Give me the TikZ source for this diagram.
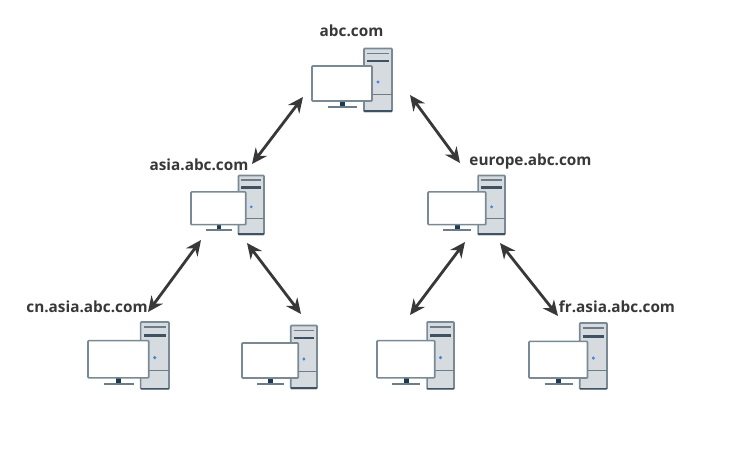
\documentclass[tikz,border=0pt]{standalone}
\usepackage{fontspec}
\setmainfont{Open Sans}
\usetikzlibrary{arrows.meta}
\definecolor{edgegray}{HTML}{7A8A95}
\definecolor{towerfill}{HTML}{D6DBDF}
\definecolor{slotlight}{HTML}{6C7C88}
\definecolor{slotdark}{HTML}{3E5264}
\definecolor{standdark}{HTML}{1F3A50}
\definecolor{dotblue}{HTML}{4A80E0}
\definecolor{inkgray}{HTML}{383838}
\tikzset{
  hostlabel/.style={font=\bfseries\fontsize{11.5}{13}\selectfont,text=inkgray,inner sep=0pt,anchor=base},
  link/.style={draw=inkgray,line width=2.1pt,{Stealth[length=11.5pt,width=10.5pt]}-{Stealth[length=11.5pt,width=10.5pt]}},
  towerbox/.style={draw=edgegray,fill=towerfill,line width=1.2pt,rounded corners=0.6pt},
  screenbox/.style={draw=edgegray,fill=white,line width=1.2pt,rounded corners=0.6pt}
}
% name, left, top, width, height in reference pixels
\newcommand{\hostpc}[5]{%
  \begin{scope}[shift={(#2,#3)},xscale=#4/80,yscale=#5/63]
    \coordinate (#1) at (40,31.5);
    \draw[towerbox] (52,0) rectangle (80,63);
    \draw[slotlight,line width=1.3pt] (55,5) -- (77,5);
    \draw[slotdark,line width=2.2pt] (55,12.5) -- (77,12.5);
    \draw[slotlight,line width=0.7pt] (52,45.5) -- (80,45.5);
    \draw[slotdark,line width=1.4pt] (52,62.5) -- (80,62.5);
    \fill[dotblue] (66,33.5) circle (1.7);
    \fill[standdark] (28,52) rectangle (33,58);
    \draw[slotlight,line width=1.4pt] (16,58.5) -- (45,58.5);
    \draw[screenbox] (0,17.5) rectangle (60,52.5);
  \end{scope}}
\begin{document}
\begin{tikzpicture}[x=0.75pt,y=-0.75pt]
\useasboundingbox (0,0) rectangle (748,454);
\fill[white] (0,0) rectangle (748,454);
\hostpc{pctop}{312}{48.5}{80}{63}
\hostpc{pcasia}{191}{175.5}{73}{59}
\hostpc{pceurope}{428}{175.5}{77}{59}
\hostpc{pccn}{88}{322}{81}{67}
\hostpc{pcasiab}{242}{325.5}{75}{63}
\hostpc{pceuropea}{377}{322}{77}{67}
\hostpc{pcfr}{529}{323}{78}{66}
\node[hostlabel] (labtop) at (351.5,36.5) {abc.com};
\node[hostlabel] (labasia) at (199,170) {asia.abc.com};
\node[hostlabel] (labeurope) at (530.5,165) {europe.abc.com};
\node[hostlabel] (labcn) at (87,312.5) {cn.asia.abc.com};
\node[hostlabel] (labfr) at (617,312.5) {fr.asia.abc.com};
\coordinate (a1) at (303,97); \coordinate (a2) at (252,164);
\coordinate (b1) at (410,95); \coordinate (b2) at (460,163);
\coordinate (c1) at (201,240); \coordinate (c2) at (148,312);
\coordinate (d1) at (247,243); \coordinate (d2) at (301,314);
\coordinate (e1) at (465,242); \coordinate (e2) at (410,315);
\coordinate (f1) at (500,243); \coordinate (f2) at (558,316);
\draw[link] (a1) -- (a2);
\draw[link] (b1) -- (b2);
\draw[link] (c1) -- (c2);
\draw[link] (d1) -- (d2);
\draw[link] (e1) -- (e2);
\draw[link] (f1) -- (f2);
\end{tikzpicture}
\end{document}
